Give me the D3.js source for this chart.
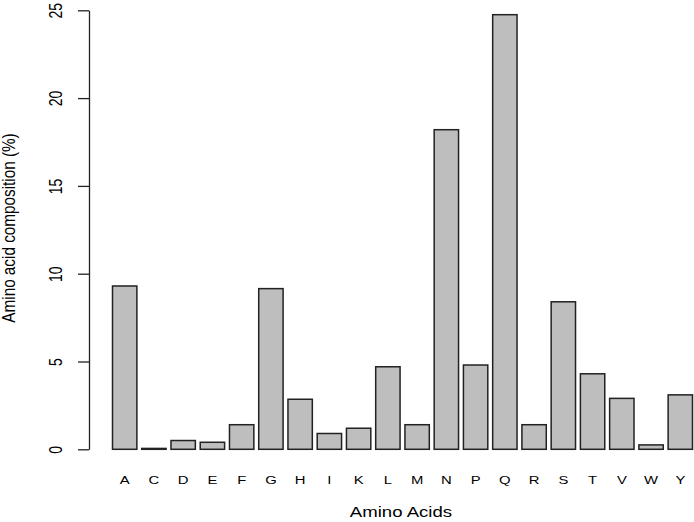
<!DOCTYPE html>
<html>
<head>
<meta charset="utf-8">
<script src="https://cdn.jsdelivr.net/npm/d3@7"></script>
<style>
	body { margin: 0; background: #fff; }
	text { font-family: 'Liberation Sans', Arial, sans-serif; fill: #000; }
</style>
</head>
<body>
<div id="chart"></div>
<script>
var aminoAcids = ['A', 'C', 'D', 'E', 'F', 'G', 'H', 'I', 'K', 'L', 'M', 'N', 'P', 'Q', 'R', 'S', 'T', 'V', 'W', 'Y'];
var composition = [9.3, 0.05, 0.5, 0.4, 1.4, 9.15, 2.85, 0.9, 1.2, 4.7, 1.4, 18.2, 4.8, 24.75, 1.4, 8.4, 4.3, 2.9, 0.25, 3.1];
var yTicks = [0, 5, 10, 15, 20, 25];
var xTitle = 'Amino Acids';
var yTitle = 'Amino acid composition (%)';

var w = 694;
var h = 522;

var svg = d3.select('#chart').append('svg').attr('width', w).attr('height', h);

var xScale = d3.scaleBand().domain(aminoAcids).range([ 112.5, 692.5 ]).paddingInner(1 / 6).paddingOuter(0);
var yScale = d3.scaleLinear().domain([ 0, 25 ]).range([ 449.3, 10.3 ]);

// bars
svg
	.selectAll('rect.bar')
	.data(composition)
	.enter()
	.append('rect')
	.attr('class', 'bar')
	.attr('x', function(d, i) {
		return xScale(aminoAcids[i]);
	})
	.attr('y', function(d) {
		return yScale(d);
	})
	.attr('width', xScale.bandwidth())
	.attr('height', function(d) {
		return yScale(0) - yScale(d);
	})
	.attr('fill', '#bebebe')
	.attr('stroke', '#222')
	.attr('stroke-width', 1.5);

// y axis
var yAxis = d3.axisLeft(yScale).tickValues(yTicks).tickSize(11).tickSizeOuter(0).tickFormat(d3.format('d'));
var gy = svg.append('g').attr('transform', 'translate(89, 0)').call(yAxis);
gy.select('.domain').attr('stroke', '#222').attr('stroke-width', 1.3);
gy.selectAll('.tick line').attr('stroke', '#222').attr('stroke-width', 1.3);
gy.selectAll('.tick text').remove();
gy
	.selectAll('.tick')
	.append('text')
	.attr('transform', 'translate(-27, 0) scale(1.25, 1) rotate(-90)')
	.attr('text-anchor', 'middle')
	.attr('font-size', '14px')
	.text(function(d) {
		return d;
	});

// x labels, no axis line (R barplot)
svg
	.selectAll('text.xlab')
	.data(aminoAcids)
	.enter()
	.append('text')
	.attr('class', 'xlab')
	.attr('transform', function(d) {
		return 'translate(' + (xScale(d) + xScale.bandwidth() / 2) + ', 483.5) scale(1.35, 1)';
	})
	.attr('text-anchor', 'middle')
	.attr('font-size', '11px')
	.text(function(d) {
		return d;
	});

// titles
svg
	.append('text')
	.attr('transform', 'translate(401, 517) scale(1.2, 1)')
	.attr('text-anchor', 'middle')
	.attr('font-size', '15.5px')
	.text(xTitle);

svg
	.append('text')
	.attr('transform', 'translate(15, 228) scale(1.2, 1) rotate(-90)')
	.attr('text-anchor', 'middle')
	.attr('font-size', '15.3px')
	.text(yTitle);
</script>
</body>
</html>
